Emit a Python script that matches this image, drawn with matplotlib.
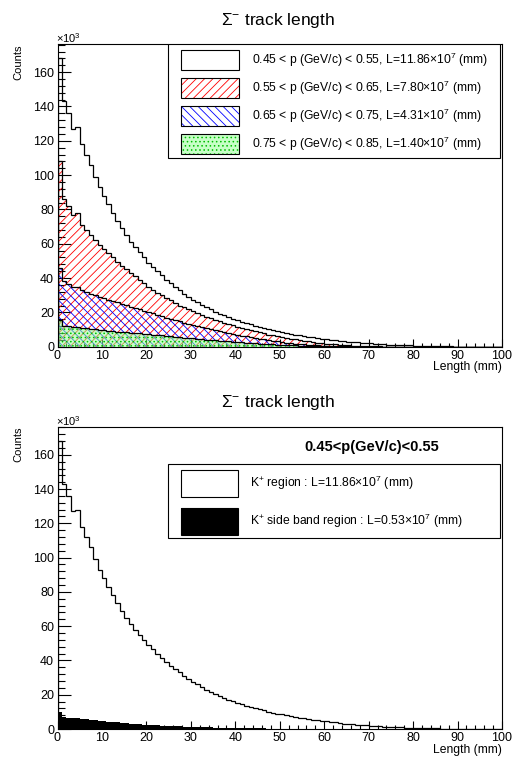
import numpy as np
import matplotlib
matplotlib.use("Agg")
import matplotlib.pyplot as plt
from matplotlib.patches import Rectangle
from matplotlib.ticker import MultipleLocator

plt.rcParams['font.family'] = ['Liberation Sans', 'DejaVu Sans']
plt.rcParams['mathtext.fontset'] = 'custom'
plt.rcParams['mathtext.rm'] = 'Liberation Sans'
plt.rcParams['mathtext.it'] = 'Liberation Sans:italic'
plt.rcParams['mathtext.bf'] = 'Liberation Sans:bold'
plt.rcParams['hatch.linewidth'] = 0.6

# track length bins, 1 mm wide, counts in units of 10^3
edges = np.arange(0, 101, 1)

p045 = [168, 143, 136, 127, 128, 118, 112, 106, 99, 93,
        88, 83, 78, 73.5, 69, 65, 61, 58, 55, 52,
        49, 46.5, 44, 41.5, 39, 37, 35, 33, 31, 29,
        27.5, 26, 24.5, 23, 21.7, 20.5, 19.3, 18.2, 17.2, 16.3,
        15.4, 14.5, 13.7, 13.0, 12.2, 11.5, 10.8, 10.2, 9.6, 9.0,
        8.5, 8.0, 7.5, 7.0, 6.6, 6.2, 5.8, 5.4, 5.0, 4.7,
        4.4, 4.1, 3.8, 3.5, 3.2, 2.9, 2.7, 2.5, 2.3, 2.1,
        1.9, 1.7, 1.5, 1.3, 1.2, 1.1, 1.0, 0.9, 0.8, 0.7,
        0.6, 0.5, 0.45, 0.4, 0.35, 0.3, 0.25, 0.2, 0.15, 0.1,
        0.08, 0.06, 0.05, 0.04, 0.03, 0.02, 0.02, 0.01, 0.01, 0]

p055 = [108, 86, 82, 77, 78, 71, 68, 65, 62, 59.5,
        57, 54.5, 52, 49.5, 47, 45, 43, 41, 39, 37,
        35, 33, 31.5, 30, 28.5, 27, 25.5, 24, 23, 21.8,
        20.6, 19.5, 18.5, 17.5, 16.5, 15.6, 14.7, 13.9, 13.1, 12.4,
        11.6, 10.9, 10.2, 9.5, 8.9, 8.3, 7.7, 7.1, 6.6, 6.1,
        5.6, 5.1, 4.7, 4.3, 3.9, 3.5, 3.1, 2.7, 2.4, 2.1,
        1.8, 1.5, 1.3, 1.1, 0.9, 0.75, 0.6, 0.5, 0.4, 0.3,
        0.25, 0.2, 0.15, 0.1, 0.1, 0.05, 0.05, 0.04, 0.03, 0.02,
        0.02, 0.01, 0.01, 0, 0, 0, 0, 0, 0, 0,
        0, 0, 0, 0, 0, 0, 0, 0, 0, 0]

p065 = [46, 38, 36.5, 34.5, 35, 33, 32, 31, 30, 29,
        28.2, 27.4, 26.6, 25.8, 25, 24.2, 23.4, 22.6, 21.8, 21,
        20.2, 19.4, 18.6, 17.8, 17, 16.2, 15.4, 14.7, 14, 13.3,
        12.6, 11.9, 11.3, 10.7, 10.1, 9.5, 9.0, 8.5, 8.0, 7.5,
        7.0, 6.5, 6.0, 5.5, 5.1, 4.7, 4.3, 3.9, 3.5, 3.1,
        2.7, 2.4, 2.1, 1.8, 1.5, 1.3, 1.1, 0.9, 0.7, 0.55,
        0.45, 0.35, 0.28, 0.22, 0.16, 0.12, 0.08, 0.05, 0.03, 0.02,
        0.01, 0, 0, 0, 0, 0, 0, 0, 0, 0,
        0, 0, 0, 0, 0, 0, 0, 0, 0, 0,
        0, 0, 0, 0, 0, 0, 0, 0, 0, 0]

p075 = [15.5, 12.3, 12, 11.7, 11.4, 11.1, 10.8, 10.5, 10.1, 9.8,
        9.5, 9.3, 9.0, 8.8, 8.6, 8.4, 8.2, 8.0, 7.7, 7.5,
        7.3, 7.0, 6.8, 6.6, 6.3, 6.1, 5.8, 5.6, 5.3, 5.0,
        4.8, 4.5, 4.3, 4.1, 3.9, 3.7, 3.5, 3.3, 3.1, 2.9,
        2.7, 2.5, 2.3, 2.1, 2.0, 1.8, 1.6, 1.5, 1.3, 1.2,
        1.0, 0.9, 0.8, 0.7, 0.6, 0.5, 0.4, 0.3, 0.25, 0.2,
        0.15, 0.1, 0.07, 0.05, 0.03, 0.02, 0.01, 0, 0, 0,
        0, 0, 0, 0, 0, 0, 0, 0, 0, 0,
        0, 0, 0, 0, 0, 0, 0, 0, 0, 0,
        0, 0, 0, 0, 0, 0, 0, 0, 0, 0]

# K+ side band, same momentum slice as p045
sideband = [10, 6.8, 6.6, 6.4, 6.2, 6.0, 5.7, 5.4, 5.1, 4.8,
            4.5, 4.3, 4.0, 3.8, 3.6, 3.4, 3.2, 3.0, 2.8, 2.6,
            2.4, 2.25, 2.1, 1.95, 1.8, 1.7, 1.6, 1.5, 1.4, 1.3,
            1.2, 1.1, 1.0, 0.95, 0.9, 0.8, 0.75, 0.7, 0.65, 0.6,
            0.55, 0.5, 0.45, 0.4, 0.37, 0.34, 0.3, 0.27, 0.24, 0.21,
            0.18, 0.16, 0.14, 0.12, 0.1, 0.09, 0.08, 0.07, 0.06, 0.05,
            0.05, 0.04, 0.04, 0.04, 0.03, 0.03, 0.03, 0.03, 0.03, 0.03,
            0.03, 0.03, 0.03, 0.03, 0.03, 0.03, 0.03, 0.03, 0.03, 0.03,
            0.03, 0.03, 0.03, 0.03, 0.03, 0.03, 0.03, 0.03, 0.02, 0.02,
            0.02, 0.01, 0.01, 0.01, 0.01, 0.01, 0.01, 0, 0, 0]

top_labels = [r"0.45 < p (GeV/c) < 0.55, L=11.86$\times$10$^{7}$ (mm)",
              r"0.55 < p (GeV/c) < 0.65, L=7.80$\times$10$^{7}$ (mm)",
              r"0.65 < p (GeV/c) < 0.75, L=4.31$\times$10$^{7}$ (mm)",
              r"0.75 < p (GeV/c) < 0.85, L=1.40$\times$10$^{7}$ (mm)"]
bot_labels = [r"K$^{+}$ region : L=11.86$\times$10$^{7}$ (mm)",
              r"K$^{+}$ side band region : L=0.53$\times$10$^{7}$ (mm)"]

YMAX = 1.05 * max(p045)
W, H = 512, 758

# fill styles: (facecolor, hatchcolor, hatch)
styles = [("none", "none", None),
          ("none", "red", "////"),
          ("none", "blue", "\\\\\\\\"),
          ((0.6, 1.0, 0.6, 0.55), (0.0, 0.75, 0.0), "....")]


def frame(ax):
    ax.set_xlim(0, 100)
    ax.set_ylim(0, YMAX)
    ax.xaxis.set_major_locator(MultipleLocator(10))
    ax.xaxis.set_minor_locator(MultipleLocator(2))
    ax.yaxis.set_major_locator(MultipleLocator(20))
    ax.yaxis.set_minor_locator(MultipleLocator(4))
    ax.tick_params(which='both', direction='in', top=False, right=False,
                   labelsize=9, width=0.8, color='black')
    ax.tick_params(axis='y', which='major', length=9.5, pad=2.5)
    ax.tick_params(axis='y', which='minor', length=4.7)
    ax.tick_params(axis='x', which='major', length=5.8, pad=2.5)
    ax.tick_params(axis='x', which='minor', length=2.9)
    for s in ax.spines.values():
        s.set_linewidth(0.8)


def hist(ax, vals, style, z):
    fc, hc, hatch = style
    if hatch is not None or fc != "none":
        ax.stairs(vals, edges, fill=True, facecolor=fc, edgecolor=hc,
                  hatch=hatch, linewidth=0, zorder=z)
    ax.stairs(vals, edges, color='black', linewidth=0.9, baseline=0, zorder=z + 0.5)


def sample(ax, x0, x1, yc, hh, style):
    fc, hc, hatch = style
    ax.add_patch(Rectangle((x0, yc - hh), x1 - x0, 2 * hh, transform=ax.transAxes,
                           facecolor='white' if fc == "none" else fc, edgecolor=hc,
                           hatch=hatch, linewidth=0, zorder=11))
    ax.add_patch(Rectangle((x0, yc - hh), x1 - x0, 2 * hh, transform=ax.transAxes,
                           fill=False, edgecolor='black', linewidth=0.8, zorder=12))


def texts(ax_top_px):
    fig.text(278 / W, 1 - (ax_top_px - 24) / H, r"$\Sigma^{-}$ track length",
             ha='center', va='center', fontsize=12.5)
    fig.text(56 / W, 1 - (ax_top_px - 6) / H, r"$\times$10$^{3}$",
             ha='left', va='center', fontsize=8)
    fig.text(18 / W, 1 - ax_top_px / H, "Counts", rotation=90,
             ha='center', va='top', fontsize=8)
    fig.text(502 / W, 1 - (ax_top_px + 317) / H, "Length (mm)",
             ha='right', va='top', fontsize=8.7)


fig = plt.figure(figsize=(W / 100, H / 100), dpi=100)
ax1 = fig.add_axes([57.5 / W, 1 - 346.7 / H, 444.5 / W, 302.7 / H])
ax2 = fig.add_axes([57.5 / W, 1 - 729.0 / H, 444.5 / W, 302.3 / H])

# upper pad: four momentum slices overlaid
frame(ax1)
for i, vals in enumerate([p045, p055, p065, p075]):
    hist(ax1, vals, styles[i], 2 + i)

ax1.add_patch(Rectangle((0.2486, 0.6234), 0.9955 - 0.2486, 1.0 - 0.6234,
                        transform=ax1.transAxes, facecolor='white',
                        edgecolor='black', linewidth=0.8, zorder=10))
for i, lab in enumerate(top_labels):
    yc = [0.9471, 0.8546, 0.7621, 0.6696][i]
    sample(ax1, 0.2772, 0.4084, yc, 0.033, styles[i])
    ax1.text(0.4376, yc, lab, transform=ax1.transAxes, ha='left', va='center',
             fontsize=8.7, zorder=13)
texts(44)

# lower pad: K+ region vs side band
frame(ax2)
hist(ax2, p045, styles[0], 2)
ax2.stairs(sideband, edges, fill=True, color='black', linewidth=0.9, zorder=4)

ax2.text(0.7075, 0.9328, "0.45<p(GeV/c)<0.55", transform=ax2.transAxes,
         ha='center', va='center', fontsize=10.5, fontweight='bold')
ax2.add_patch(Rectangle((0.2486, 0.6318), 0.9955 - 0.2486, 0.8766 - 0.6318,
                        transform=ax2.transAxes, facecolor='white',
                        edgecolor='black', linewidth=0.8, zorder=10))
bot_styles = [("none", "none", None), ("black", "black", None)]
for i, lab in enumerate(bot_labels):
    yc = [0.813, 0.687][i]
    sample(ax2, 0.2772, 0.4055, yc, 0.0447, bot_styles[i])
    ax2.text(0.4331, yc, lab, transform=ax2.transAxes, ha='left', va='center',
             fontsize=8.7, zorder=13)
texts(426.7)

fig.savefig("out.png", dpi=100)
